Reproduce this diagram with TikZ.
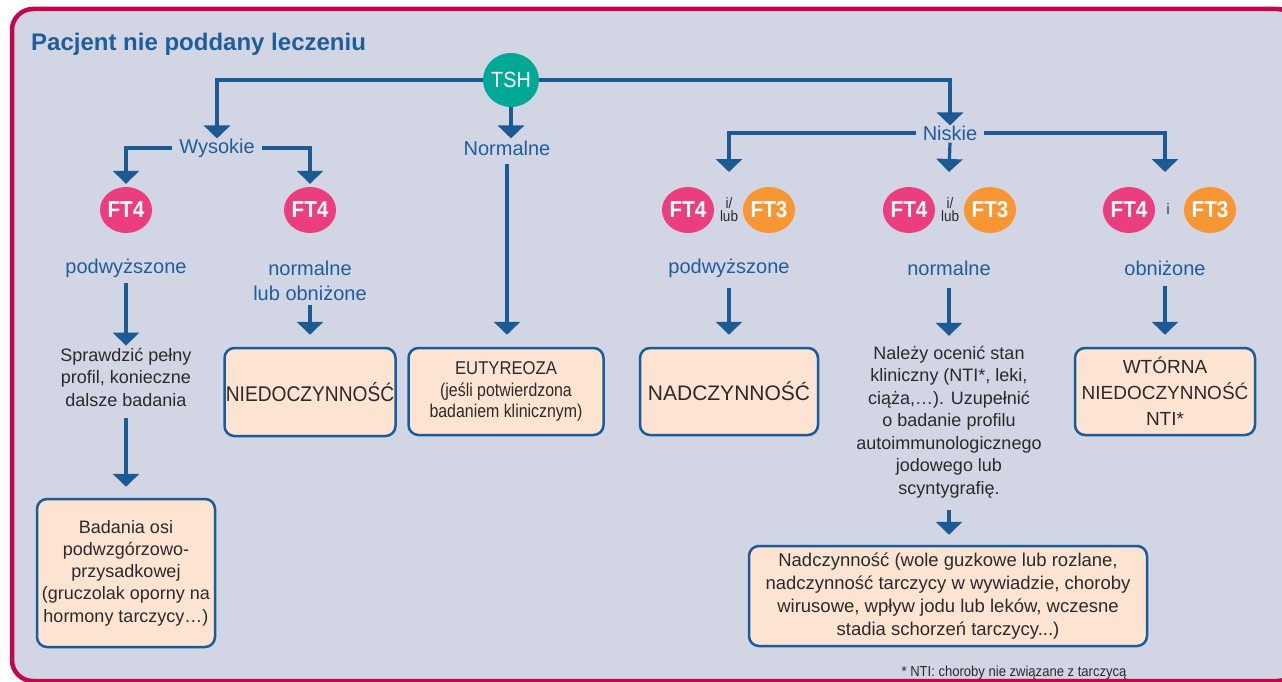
\documentclass[tikz,border=0pt]{standalone}
\usepackage{fontspec}
\setmainfont{Liberation Sans}
\newfontfamily\cond[FakeStretch=0.9]{Liberation Sans}
\newfontfamily\narrow[FakeStretch=0.86]{Liberation Sans}
\usetikzlibrary{arrows.meta,shapes.geometric}
\definecolor{bgc}{HTML}{D1D5E4}
\definecolor{crimson}{HTML}{C4064A}
\definecolor{lineblue}{HTML}{1B5A92}
\definecolor{labelblue}{HTML}{1F5E9A}
\definecolor{boxfill}{HTML}{FDE4D2}
\definecolor{boxblue}{HTML}{1A5C9A}
\definecolor{tealc}{HTML}{00A896}
\definecolor{pinkc}{HTML}{EC3E7E}
\definecolor{orangec}{HTML}{F79633}
\definecolor{textdark}{HTML}{2A2A2A}
\tikzset{
  lbl/.style={font=\fontsize{20}{25}\selectfont, text=labelblue, inner ysep=2pt, inner xsep=7pt, align=center},
  body/.style={font=\fontsize{18}{22.5}\selectfont, text=textdark, inner sep=2pt, align=center},
  box/.style={draw=boxblue, line width=2.5pt, fill=boxfill, rounded corners=10pt, align=center, text=textdark, inner sep=3pt},
  circf4/.style={ellipse, fill=pinkc, minimum width=44pt, minimum height=46pt, inner sep=0pt, text=white, font=\cond\bfseries\fontsize{23}{23}\selectfont},
  circf3/.style={circf4, fill=orangec},
  orlbl/.style={font=\cond\fontsize{15}{13}\selectfont, text=textdark, inner sep=0pt, align=center},
  conn/.style={draw=lineblue, line width=3.2pt},
  arr/.style={conn, -{Triangle[width=26pt,length=13pt]}},
}
\begin{document}
\begin{tikzpicture}[x=1pt,y=-1pt]
\useasboundingbox (0,0) rectangle (1282,682);
\clip (0,0) rectangle (1282,682);
\fill[white] (0,0) rectangle (1282,682);
\draw[draw=crimson, line width=4.5pt, fill=bgc, rounded corners=21pt] (12,9) rectangle (1298,681);

\node[anchor=west, font=\bfseries\fontsize{24}{28}\selectfont, text=labelblue, inner sep=0pt] (title) at (31,44) {Pacjent nie poddany leczeniu};

\node[ellipse, fill=tealc, minimum width=54pt, minimum height=54pt, inner sep=0pt, text=white, font=\cond\fontsize{22}{22}\selectfont] (tsh) at (511,80) {TSH};

\node[lbl] (wys) at (217,148) {Wysokie};
\node[lbl] (norm) at (507,148) {Normalne};
\node[lbl] (nisk) at (950,133) {Niskie};

\node[circf4] (f4a) at (126,210) {FT4};
\node[circf4] (f4b) at (310,210) {FT4};
\node[circf4] (f4c) at (688,210) {FT4};
\node[orlbl] (or1) at (729,210) {i/\\lub};
\node[circf3] (f3c) at (769,210) {FT3};
\node[circf4] (f4d) at (909,210) {FT4};
\node[orlbl] (or2) at (950,210) {i/\\lub};
\node[circf3] (f3d) at (990,210) {FT3};
\node[circf4] (f4e) at (1129,210) {FT4};
\node[orlbl] (or3) at (1168,209) {i};
\node[circf3] (f3e) at (1210,210) {FT3};

\coordinate (c1) at (729,172);
\coordinate (c2) at (949,172);
\coordinate (c3) at (1165,172);

\node[lbl] (podA) at (126,268) {podwyższone};
\node[lbl] (nlo) at (310,281) {normalne\\lub obniżone};
\node[lbl] (podB) at (729,268) {podwyższone};
\node[lbl] (normB) at (949,268) {normalne};
\node[lbl] (obn) at (1165,268) {obniżone};

\node[body] (spraw) at (126,377) {Sprawdzić pełny\\profil, konieczne\\dalsze badania};

\node[box, minimum width=178pt, minimum height=148pt, font=\fontsize{18}{22.3}\selectfont] (bad) at (126,573) {Badania osi\\podwzgórzowo-\\przysadkowej\\(gruczolak oporny na\\hormony tarczycy…)};

\node[box, minimum width=171pt, minimum height=88pt, font=\cond\fontsize{21.3}{24}\selectfont, inner sep=1pt] (niedo) at (310,392) {NIEDOCZYNNOŚĆ};

\node[box, minimum width=195pt, minimum height=87pt, font=\narrow\fontsize{18.5}{21.5}\selectfont] (euty) at (506,391.5) {{\cond\fontsize{18.5}{24}\selectfont EUTYREOZA}\\(jeśli potwierdzona\\badaniem klinicznym)};

\node[box, minimum width=178pt, minimum height=87pt, font=\fontsize{21}{24}\selectfont] (nadcz) at (729,391.5) {NADCZYNNOŚĆ};

\node[box, minimum width=180pt, minimum height=87pt, font=\fontsize{19}{26}\selectfont] (wtor) at (1165,391.5) {WTÓRNA\\NIEDOCZYNNOŚĆ\\NTI*};

\node[body] (nalezy) at (949,422) {Należy ocenić stan\\kliniczny (NTI*, leki,\\ciąża,…). Uzupełnić\\o badanie profilu\\autoimmunologicznego\\jodowego lub\\scyntygrafię.};

\node[box, minimum width=398pt, minimum height=100pt, font=\fontsize{18.5}{23}\selectfont] (nadcz2) at (948,596) {Nadczynność (wole guzkowe lub rozlane,\\nadczynność tarczycy w wywiadzie, choroby\\wirusowe, wpływ jodu lub leków, wczesne\\stadia schorzeń tarczycy...)};

\node[font=\cond\fontsize{14.5}{15}\selectfont, text=textdark, inner sep=0pt] (foot) at (1014,673) {* NTI: choroby nie związane z tarczycą};

% connectors from TSH
\draw[arr] (tsh.west) -| ([yshift=-2pt]wys.north);
\draw[arr] (tsh.east) -| ([yshift=-2pt]nisk.north);
\draw[arr] (tsh.south) -- (tsh.south |- norm.north);
% Wysokie
\draw[arr, shorten >=3pt] (wys.west) -| (f4a.north);
\draw[arr, shorten >=3pt] (wys.east) -| (f4b.north);
% Niskie
\draw[arr] (nisk.west) -| (c1);
\draw[arr] (nisk.south) -- (c2);
\draw[arr] (nisk.east) -| (c3);
% verticals
\draw[arr, shorten <=3pt] (podA.south) -- (podA.south |- spraw.north);
\draw[arr, shorten <=10pt, shorten >=11pt] (spraw.south) -- (spraw.south |- bad.north);
\draw[arr, shorten <=2pt, shorten >=12pt] (nlo.south) -- (nlo.south |- niedo.north);
\draw[arr, shorten <=6pt, shorten >=12pt] (norm.south) -- (norm.south |- euty.north);
\draw[arr, shorten <=8pt, shorten >=12pt] (podB.south) -- (podB.south |- nadcz.north);
\draw[arr, shorten <=10pt, shorten >=8pt] (normB.south) -- (normB.south |- nalezy.north);
\draw[arr, shorten <=8pt, shorten >=12pt] (obn.south) -- (obn.south |- wtor.north);
\draw[arr, shorten <=10pt, shorten >=10pt] (nalezy.south) -- (nalezy.south |- nadcz2.north);
\end{tikzpicture}
\end{document}
